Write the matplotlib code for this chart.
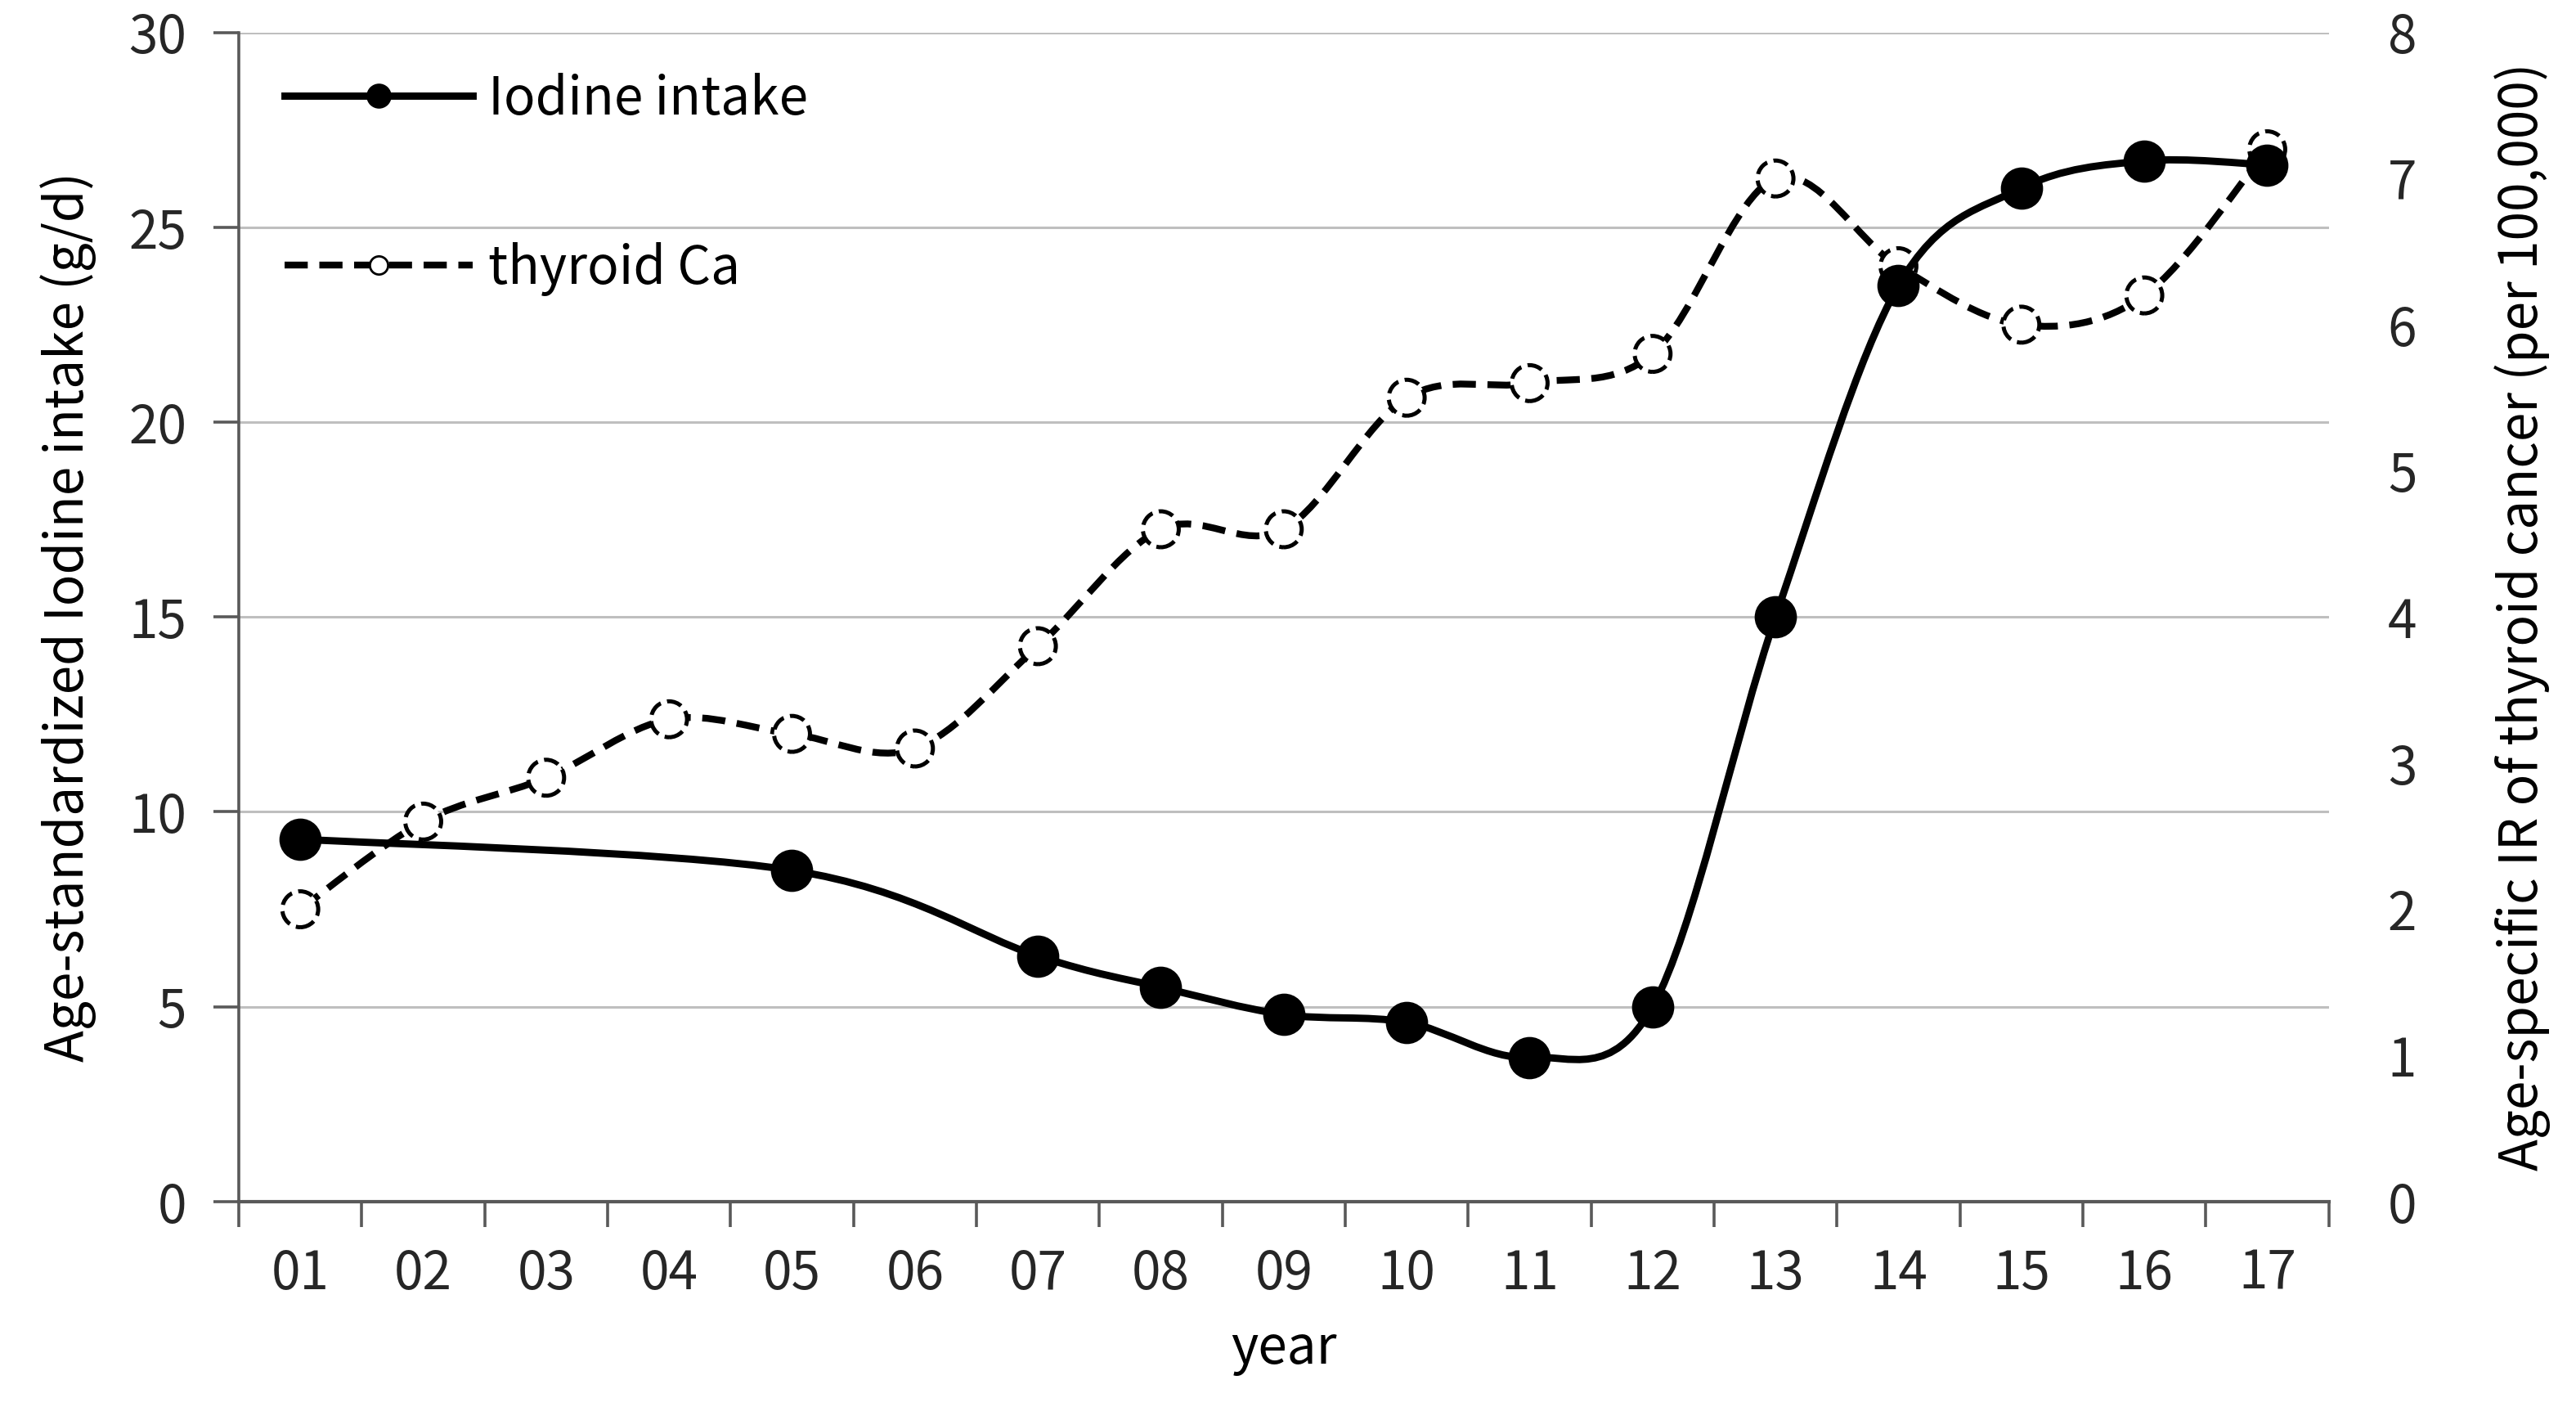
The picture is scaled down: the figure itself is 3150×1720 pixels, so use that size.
import numpy as np
import matplotlib.pyplot as plt
from matplotlib.path import Path
from matplotlib.patches import PathPatch
from matplotlib.lines import Line2D

plt.rcParams['font.family'] = ['Noto Sans CJK KR', 'DejaVu Sans']

# data
years = ['01', '02', '03', '04', '05', '06', '07', '08', '09', '10',
         '11', '12', '13', '14', '15', '16', '17']
iodine_years = ['01', '05', '07', '08', '09', '10', '11', '12', '13',
                '14', '15', '16', '17']
iodine = [9.3, 8.5, 6.3, 5.5, 4.8, 4.6, 3.7, 5.0, 15.0, 23.5, 26.0, 26.7, 26.6]
thyroid = [2.0, 2.6, 2.9, 3.3, 3.2, 3.1, 3.8, 4.6, 4.6, 5.5, 5.6, 5.8,
           7.0, 6.4, 6.0, 6.2, 7.2]


def smooth_path(x, y):
    # Excel-like smoothed line: cubic bezier through the points
    pts = np.column_stack([x, y]).astype(float)
    n = len(pts)
    verts = [pts[0]]
    codes = [Path.MOVETO]
    for i in range(n - 1):
        p0 = pts[max(i - 1, 0)]
        p1 = pts[i]
        p2 = pts[i + 1]
        p3 = pts[min(i + 2, n - 1)]
        verts += [p1 + (p2 - p0) / 6, p2 - (p3 - p1) / 6, p2]
        codes += [Path.CURVE4] * 3
    return Path(verts, codes)


x_all = np.arange(len(years))
x_iod = np.array([years.index(y) for y in iodine_years])

fig = plt.figure(figsize=(15.75, 8.6), dpi=200)
ax1 = fig.add_axes([0.0927, 0.146, 0.8113, 0.831])
ax2 = ax1.twinx()

ax1.set_xlim(-0.5, len(years) - 0.5)
ax1.set_ylim(0, 30)
ax2.set_ylim(0, 8)

ax1.set_yticks(range(0, 31, 5))
ax1.yaxis.grid(True, color='#bfbfbf', lw=1.1)
ax1.set_axisbelow(True)

# thyroid cancer (right axis)
dash = (0, (3.4, 1.7))
ax2.add_patch(PathPatch(smooth_path(x_all, thyroid), fill=False,
                        edgecolor='black', lw=3.0, linestyle=dash))
ax2.scatter(x_all, thyroid, s=250, facecolors='white', edgecolors='black',
            linewidths=1.8, linestyles='--', zorder=3)

# iodine intake (left axis), drawn in ax2 so it sits on top
ax2.add_patch(PathPatch(smooth_path(x_iod, iodine), fill=False,
                        edgecolor='black', lw=3.2, transform=ax1.transData,
                        zorder=4))
ax2.scatter(x_iod, iodine, s=310, color='black', transform=ax1.transData,
            zorder=5)

# axes styling
spine_col = '#595959'
for a in (ax1, ax2):
    a.spines['top'].set_visible(False)
    a.spines['right'].set_visible(False)
ax1.spines['left'].set_color(spine_col)
ax1.spines['left'].set_linewidth(1.3)
ax1.spines['bottom'].set_color(spine_col)
ax1.spines['bottom'].set_linewidth(1.5)
ax2.spines['left'].set_visible(False)
ax2.spines['bottom'].set_visible(False)

ax1.set_xticks(x_all)
ax1.set_xticklabels(years)
ax1.set_xticks(np.arange(-0.5, len(years)), minor=True)
ax1.tick_params(axis='x', which='major', length=0, pad=20,
                labelsize=23, labelcolor='#262626')
ax1.tick_params(axis='x', which='minor', length=11, width=1.3,
                color=spine_col)
ax1.tick_params(axis='y', length=11, width=1.3, color=spine_col, pad=12,
                labelsize=23, labelcolor='#262626')
ax2.tick_params(axis='y', length=0, pad=26, labelsize=23,
                labelcolor='#262626')

ax1.set_xlabel('year', fontsize=23, labelpad=9)
ax1.set_ylabel('Age-standardized Iodine intake (g/d)', fontsize=23,
               labelpad=14)
ax2.set_ylabel('Age-specific IR of thyroid cancer (per 100,000)',
               fontsize=23, labelpad=34)

handles = [
    Line2D([], [], color='black', lw=3.2, marker='o', ms=10),
    Line2D([], [], color='black', lw=3.0, linestyle=dash, marker='o',
           ms=8, mfc='white', mec='black'),
]
ax1.legend(handles, ['Iodine intake', 'thyroid Ca'], loc='upper left',
           bbox_to_anchor=(0.022, 0.966), frameon=False, fontsize=23,
           borderpad=0, borderaxespad=0, handlelength=3.6,
           handletextpad=0.3, labelspacing=2.2)

fig.savefig('out.png', dpi=200)
